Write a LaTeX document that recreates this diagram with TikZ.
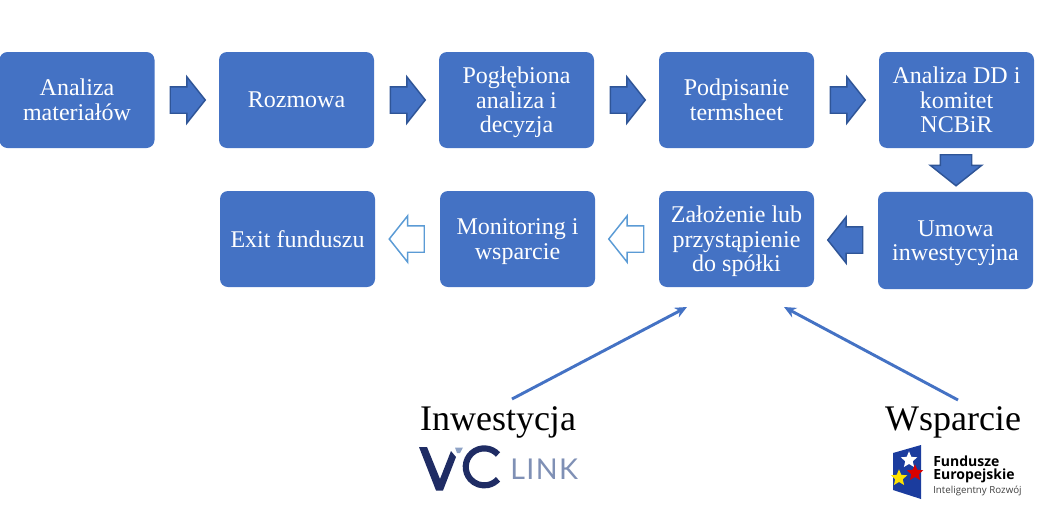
\documentclass[tikz,border=0pt]{standalone}
\usepackage{fontspec}
\setmainfont{Liberation Serif}
\newfontfamily\logofont{Open Sans}
\newfontfamily\linkfont[LetterSpace=5]{Lato}
\usetikzlibrary{shapes.arrows,shapes.geometric,arrows.meta}
\definecolor{boxblue}{HTML}{4472C4}
\definecolor{arrowedge}{HTML}{2F5597}
\definecolor{lightedge}{HTML}{5B9BD5}
\definecolor{vcnavy}{HTML}{1F2C64}
\definecolor{vcgrey}{HTML}{7F90B5}
\definecolor{vclight}{HTML}{8FA3C6}
\definecolor{flagblue}{HTML}{1B3C9E}
\tikzset{
  stepbox/.style={draw=none, fill=boxblue, rounded corners=6pt, minimum width=116.25pt, minimum height=72pt,
    inner sep=0pt, text=white, align=center, font=\fontsize{18}{18.4}\selectfont},
  nizej/.style={text depth=0pt},
  blockarrow/.style={single arrow, draw=arrowedge, line width=1.1pt, fill=boxblue, inner xsep=0pt, inner ysep=9.375pt,
    minimum height=26.25pt, minimum width=33.75pt, single arrow head extend=7.5pt, single arrow tip angle=103},
  openarrow/.style={blockarrow, draw=lightedge, fill=white},
  thinarrow/.style={draw=boxblue, line width=2.2pt, -{Stealth[length=9pt,width=8pt]}},
  biglabel/.style={font=\fontsize{27}{27}\selectfont, inner sep=0pt, anchor=base},
  flagstar/.style={star, star points=5, star point ratio=2.2, inner sep=0pt, minimum size=13pt, draw=none}
}
\begin{document}
\begin{tikzpicture}[x=0.75pt,y=-0.75pt]
  \useasboundingbox (0,0) rectangle (1039,529);

  % Pierwszy rzad
  \node[stepbox] (analiza) at (77,100) {Analiza\\materiałów};
  \node[stepbox] (rozmowa) at (296.5,100) {Rozmowa};
  \node[stepbox, nizej] (poglebiona) at (516.5,100) {Pogłębiona\\analiza i\\decyzja};
  \node[stepbox] (termsheet) at (736.5,100) {Podpisanie\\termsheet};
  \node[stepbox] (komitet) at (956.5,100) {Analiza DD i\\komitet\\NCBiR};

  % Drugi rzad
  \node[stepbox, minimum height=73pt, nizej] (umowa) at (955.5,240.5) {Umowa\\inwestycyjna};
  \node[stepbox, nizej] (spolka) at (736.5,239) {Założenie lub\\przystąpienie\\do spółki};
  \node[stepbox, nizej] (monitoring) at (517.5,239) {Monitoring i\\wsparcie};
  \node[stepbox] (exit) at (297.5,239) {Exit funduszu};

  % Strzalki blokowe
  \node[blockarrow] (strzalka1) at (182.5,100) {};
  \node[blockarrow] (strzalka2) at (402.5,100) {};
  \node[blockarrow] (strzalka3) at (622.5,100) {};
  \node[blockarrow] (strzalka4) at (842.5,100) {};
  \node[blockarrow, rotate=-90, inner ysep=11.25pt, minimum height=23.25pt, minimum width=37.5pt] (strzalka5) at (956,164) {};
  \node[blockarrow, rotate=180] (strzalka6) at (850.5,240) {};
  \node[openarrow, rotate=180] (strzalka7) at (631.5,239) {};
  \node[openarrow, rotate=180] (strzalka8) at (412,239) {};

  % Podpisy na dole
  \node[biglabel] (inwestycja) at (498,430) {Inwestycja};
  \node[biglabel] (wsparcie) at (953,430) {Wsparcie};

  % Strzalki cienkie
  \coordinate (startinw) at (512,399);
  \coordinate (koniecinw) at (687,307);
  \coordinate (startwsp) at (958,400);
  \coordinate (koniecwsp) at (784,307);
  \draw[thinarrow] (startinw) -- (koniecinw);
  \draw[thinarrow] (startwsp) -- (koniecwsp);

  % Logo VC LINK
  \fill[vcnavy] (419,447) -- (427,447) -- (440,479) -- (451,451) -- (456,457) -- (443,490.5) -- (436,490.5) -- cycle;
  \fill[vclight] (455,447.5) -- (463,447.5) -- (460,453) -- (457,453) -- cycle;
  \draw[vcnavy, line width=4.6pt] (498,454.5) arc (-42:-318:18.5);
  \node[font=\linkfont\fontsize{21.5}{21.5}\selectfont, text=vcgrey, inner sep=0pt, anchor=base west] (link) at (510,479) {LINK};

  % Logo Fundusze Europejskie
  \fill[flagblue] (893,453) -- (921,445) -- (921,499) -- (893,490) -- cycle;
  \node[flagstar, fill=white] (gwiazda1) at (909,460) {};
  \node[flagstar, fill=red!85!black] (gwiazda2) at (915,473) {};
  \node[flagstar, fill=yellow!85!orange] (gwiazda3) at (899,478) {};
  \node[font=\logofont\bfseries\fontsize{10.5}{10.5}\selectfont, inner sep=0pt, anchor=base west] (fundusze) at (933,466) {Fundusze};
  \node[font=\logofont\bfseries\fontsize{10.5}{10.5}\selectfont, inner sep=0pt, anchor=base west] (europejskie) at (933,479) {Europejskie};
  \node[font=\logofont\fontsize{7.3}{7.3}\selectfont, text=black!75, inner sep=0pt, anchor=base west] (rozwoj) at (933,493) {Inteligentny Rozwój};
\end{tikzpicture}
\end{document}
